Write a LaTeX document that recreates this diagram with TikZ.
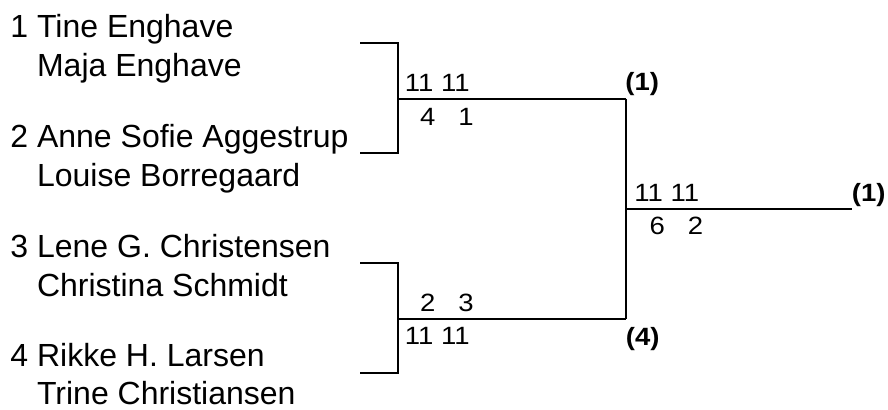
\documentclass[tikz,border=0pt]{standalone}
\usepackage{fontspec}
\setmainfont{Liberation Sans}
\newfontfamily\scorefont[FakeStretch=1.1]{Liberation Sans}
\begin{document}
\begin{tikzpicture}[x=0.5pt,y=-0.5pt,
  playertext/.style={anchor=base west,inner sep=0pt,font=\fontsize{16pt}{19pt}\selectfont},
  scoretext/.style={anchor=base west,inner sep=0pt,font=\fontsize{12.5pt}{15pt}\scorefont},
  seedtext/.style={anchor=base west,inner sep=0pt,font=\fontsize{12.5pt}{15pt}\scorefont\bfseries},
  bline/.style={draw=black,line width=0.9pt}]
\useasboundingbox (0,0) rectangle (888,410);
% players
\node[playertext] (p1a) at (10,38) {1 Tine Enghave};
\node[playertext] (p1b) at (10,77) {\phantom{1\ }Maja Enghave};
\node[playertext] (p2a) at (10,148) {2 Anne Sofie Aggestrup};
\node[playertext] (p2b) at (10,187) {\phantom{2\ }Louise Borregaard};
\node[playertext] (p3a) at (10,258) {3 Lene G. Christensen};
\node[playertext] (p3b) at (10,297) {\phantom{3\ }Christina Schmidt};
\node[playertext] (p4a) at (10,367) {4 Rikke H. Larsen};
\node[playertext] (p4b) at (10,405) {\phantom{4\ }Trine Christiansen};
% bracket coordinates
\coordinate (t1) at (360,43);
\coordinate (t1c) at (398,43);
\coordinate (t2) at (360,153);
\coordinate (t2c) at (398,153);
\coordinate (tm) at (398,99);
\coordinate (tw) at (626,99);
\coordinate (b1) at (360,263);
\coordinate (b1c) at (398,263);
\coordinate (b2) at (360,373);
\coordinate (b2c) at (398,373);
\coordinate (bm) at (398,319);
\coordinate (bw) at (626,319);
\coordinate (fm) at (626,209);
\coordinate (fw) at (852,209);
% lines
\draw[bline] (t1) -- (t1c) -- (t2c) -- (t2);
\draw[bline] (tm) -- (tw);
\draw[bline] (b1) -- (b1c) -- (b2c) -- (b2);
\draw[bline] (bm) -- (bw);
\draw[bline] (tw) -- (bw);
\draw[bline] (fm) -- (fw);
% scores
\node[scoretext] (s1a) at (404.5,92) {11 11};
\node[scoretext] (s1b) at (404.5,126) {\phantom{1}4 \phantom{1}1};
\node[scoretext] (s2a) at (404.5,312) {\phantom{1}2 \phantom{1}3};
\node[scoretext] (s2b) at (404.5,345) {11 11};
\node[scoretext] (s3a) at (634,202) {11 11};
\node[scoretext] (s3b) at (634,235) {\phantom{1}6 \phantom{1}2};
% seeds
\node[seedtext] (w1) at (625,91) {(1)};
\node[seedtext] (w2) at (625.5,346) {(4)};
\node[seedtext] (w3) at (851.5,201.5) {(1)};
\end{tikzpicture}
\end{document}
